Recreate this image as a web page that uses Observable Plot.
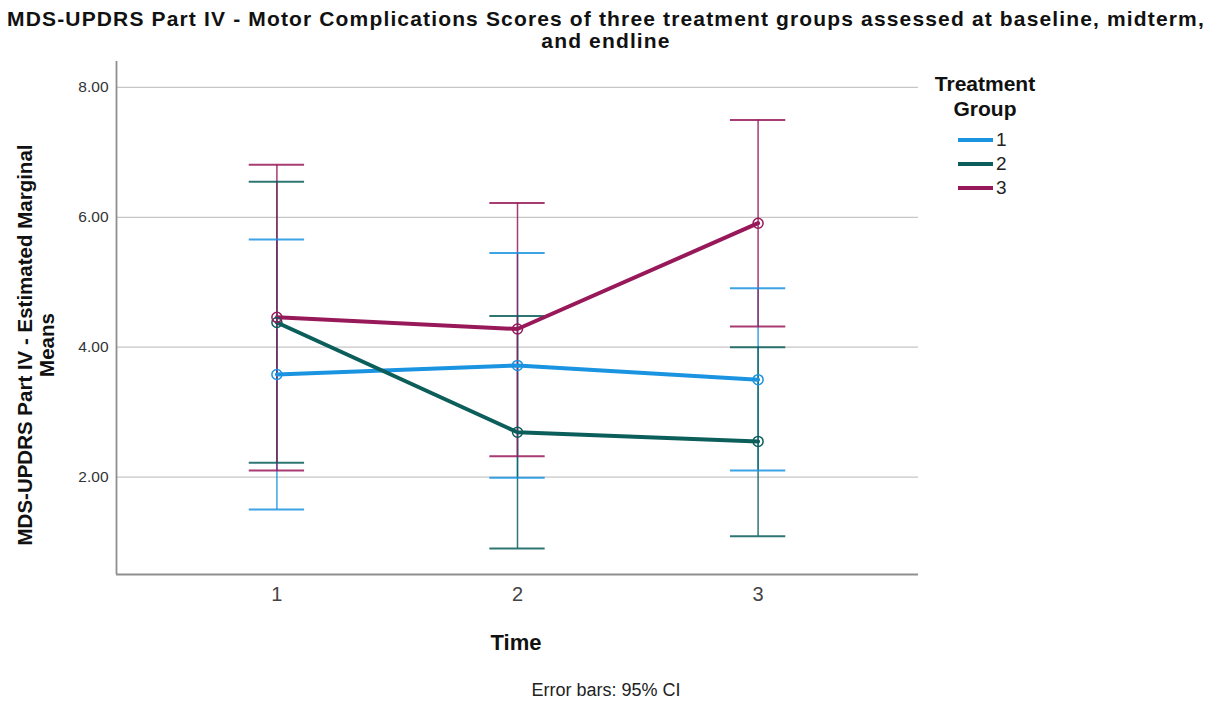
<!DOCTYPE html>
<html>
<head>
<meta charset="utf-8">
<script src="https://cdn.jsdelivr.net/npm/d3@7"></script>
<script src="https://cdn.jsdelivr.net/npm/@observablehq/plot@0.6"></script>
<style>
  body { margin: 0; background: #fff; font-family: "Liberation Sans", Arial, sans-serif; }
  #wrap { position: relative; width: 1222px; height: 702px; overflow: hidden; background: #fff; }
  #title { position: absolute; left: 0; top: 8px; width: 1212px; text-align: center;
           font-weight: bold; font-size: 21px; line-height: 22px; letter-spacing: 1.15px;
           color: #111; white-space: nowrap; }
  #chart { position: absolute; left: 0; top: 56px; }
  #ylab { position: absolute; left: -214px; top: 323px; width: 500px; height: 44px;
          transform: rotate(-90deg); transform-origin: 50% 50%; text-align: center;
          font-weight: bold; font-size: 20.5px; line-height: 22px; color: #111; white-space: nowrap; }
  #xlab { position: absolute; left: 416px; top: 632px; width: 200px; text-align: center;
          font-weight: bold; font-size: 22px; line-height: 22px; color: #111; }
  #note { position: absolute; left: 456px; top: 681px; width: 300px; text-align: center;
          font-size: 18px; line-height: 18px; color: #222; }
  #legend { position: absolute; left: 905px; top: 71px; width: 160px; }
  #legend .head { text-align: center; font-weight: bold; font-size: 21px; line-height: 25px; color: #111; }
  #legend .items { position: absolute; left: 53px; top: 57px; }
  #legend .row { display: flex; align-items: center; height: 24px; }
  #legend .sw { width: 35px; height: 4px; margin-right: 3px; }
  #legend .lab { font-size: 19px; line-height: 24px; color: #222; }
</style>
</head>
<body>
<div id="wrap">
  <div id="title">MDS-UPDRS Part IV - Motor Complications Scores of three treatment groups assessed at baseline, midterm,<br>and endline</div>
  <div id="chart"></div>
  <div id="ylab">MDS-UPDRS Part IV - Estimated Marginal<br>Means</div>
  <div id="xlab">Time</div>
  <div id="note">Error bars: 95% CI</div>
  <div id="legend"><div class="head">Treatment<br>Group</div><div class="items"></div></div>
</div>
<script>
// Time points and treatment groups
const timePoints = [1, 2, 3];
const groups = ["1", "2", "3"];
const groupColors = ["#1a93e0", "#0b5e5a", "#98195a"];

// Estimated marginal means with 95% CI bounds, one array per group
const mean1  = [3.58, 3.72, 3.50];
const lower1 = [1.50, 1.99, 2.10];
const upper1 = [5.66, 5.45, 4.91];

const mean2  = [4.38, 2.69, 2.55];
const lower2 = [2.22, 0.90, 1.09];
const upper2 = [6.55, 4.48, 4.00];

const mean3  = [4.46, 4.28, 5.91];
const lower3 = [2.10, 2.32, 4.32];
const upper3 = [6.81, 6.22, 7.50];

// Axis ticks
const yTicks = [2, 4, 6, 8];
const xTicks = [1, 2, 3];

// Long-format table built from the arrays above
const series = [
  {group: "1", mean: mean1, lower: lower1, upper: upper1},
  {group: "2", mean: mean2, lower: lower2, upper: upper2},
  {group: "3", mean: mean3, lower: lower3, upper: upper3}
];
const rows = series.flatMap(s => timePoints.map((t, i) => ({
  time: t, group: s.group, mean: s.mean[i], lower: s.lower[i], upper: s.upper[i]
})));

const xDomain = [1 / 3, 11 / 3];
const yDomain = [0.5, 8.4];
const capHalf = 0.115; // half width of error bar caps, in time units

const chart = Plot.plot({
  width: 1222,
  height: 604,
  marginTop: 5,
  marginBottom: 86,
  marginLeft: 116,
  marginRight: 304,
  style: {fontFamily: "Liberation Sans, Arial, sans-serif", color: "#333", background: "transparent"},
  x: {domain: xDomain, axis: null},
  y: {domain: yDomain, axis: null},
  color: {domain: groups, range: groupColors},
  marks: [
    // horizontal gridlines
    Plot.ruleY(yTicks, {stroke: "#c6c6c6", strokeWidth: 1.2}),
    // axis lines
    Plot.ruleX([xDomain[0]], {stroke: "#8f8f8f", strokeWidth: 1.8}),
    Plot.ruleY([yDomain[0]], {stroke: "#8f8f8f", strokeWidth: 1.8}),
    // 95% CI bars
    Plot.ruleX(rows, {x: "time", y1: "lower", y2: "upper", stroke: "group", strokeWidth: 1.5, strokeOpacity: 0.85}),
    Plot.ruleY(rows, {y: "lower", x1: d => d.time - capHalf, x2: d => d.time + capHalf, stroke: "group", strokeWidth: 2, strokeOpacity: 0.85}),
    Plot.ruleY(rows, {y: "upper", x1: d => d.time - capHalf, x2: d => d.time + capHalf, stroke: "group", strokeWidth: 2, strokeOpacity: 0.85}),
    // mean profiles
    Plot.line(rows, {x: "time", y: "mean", z: "group", stroke: "group", strokeWidth: 4}),
    Plot.dot(rows, {x: "time", y: "mean", stroke: "group", r: 5, strokeWidth: 1.5, fill: "none"}),
    // axes
    Plot.axisY({ticks: yTicks, tickFormat: d3.format(".2f"), tickSize: 0, tickPadding: 8, fontSize: 15.5, label: null, fill: "#333"}),
    Plot.axisX({ticks: xTicks, tickFormat: d => String(d), tickSize: 0, tickPadding: 12, fontSize: 20, label: null, fill: "#444"})
  ]
});
document.getElementById("chart").appendChild(chart);

// legend with line swatches
const items = d3.select("#legend .items");
groups.forEach((g, i) => {
  const row = items.append("div").attr("class", "row");
  row.append("div").attr("class", "sw").style("background", groupColors[i]);
  row.append("div").attr("class", "lab").text(g);
});
</script>
</body>
</html>
